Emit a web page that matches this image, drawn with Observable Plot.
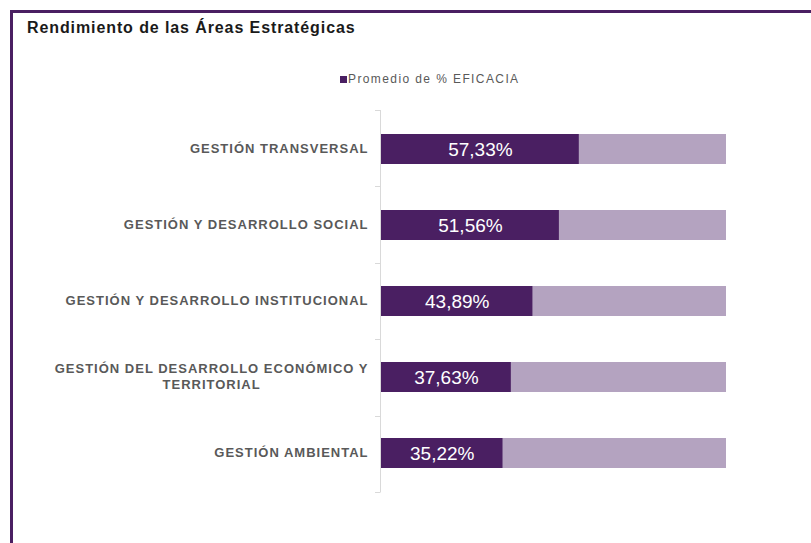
<!DOCTYPE html>
<html><head><meta charset="utf-8">
<script src="https://cdn.jsdelivr.net/npm/d3@7"></script>
<script src="https://cdn.jsdelivr.net/npm/@observablehq/plot@0.6"></script>
<style>
body{margin:0;background:#fff;font-family:"Liberation Sans",Arial,sans-serif;}
#frame{position:absolute;left:10px;top:10px;width:801px;height:533px;border-top:3px solid #4a1f62;border-left:3px solid #4a1f62;box-sizing:border-box;}
#title{position:absolute;left:27px;top:19px;font-size:16px;font-weight:bold;color:#1a1a1a;white-space:nowrap;letter-spacing:0.9px;}
#legend{position:absolute;left:340px;top:71px;font-size:12px;color:#595959;letter-spacing:1.4px;white-space:nowrap;line-height:16px;}
#legend .sw{display:inline-block;width:7px;height:7px;background:#4a1f62;margin-right:1px;vertical-align:0px;}
#chart{position:absolute;left:13px;top:95px;}
#chart g[aria-label="y-axis tick label"] text{letter-spacing:1px;}
</style></head><body>
<div id="frame"></div>
<div id="title">Rendimiento de las Áreas Estratégicas</div>
<div id="legend"><span class="sw"></span>Promedio de % EFICACIA</div>
<div id="chart"></div>
<script>
const categories = [
  "GESTIÓN TRANSVERSAL",
  "GESTIÓN Y DESARROLLO SOCIAL",
  "GESTIÓN Y DESARROLLO INSTITUCIONAL",
  "GESTIÓN DEL DESARROLLO ECONÓMICO Y TERRITORIAL",
  "GESTIÓN AMBIENTAL"
];
const tickLabels = [
  "GESTIÓN TRANSVERSAL",
  "GESTIÓN Y DESARROLLO SOCIAL",
  "GESTIÓN Y DESARROLLO INSTITUCIONAL",
  "GESTIÓN DEL DESARROLLO ECONÓMICO Y\nTERRITORIAL",
  "GESTIÓN AMBIENTAL"
];
const eficacia = [57.33, 51.56, 43.89, 37.63, 35.22];
const total = 100;

const dark = "#4a1f62";
const light = "#b4a3c0";

const data = categories.map((c, i) => ({cat: c, value: eficacia[i], total}));
const fmt = v => v.toFixed(2).replace(".", ",") + "%";

function axisFrame(index, scales, values, dims) {
  const {marginTop, marginBottom, height} = dims;
  const x0 = scales.x(0) - 1;
  const top = marginTop, bottom = height - marginBottom;
  const n = categories.length;
  const g = d3.create("svg:g").attr("stroke", "#d9d9d9").attr("stroke-width", 1);
  g.append("line").attr("x1", x0 + 0.5).attr("x2", x0 + 0.5).attr("y1", top).attr("y2", bottom);
  for (let k = 0; k <= n; k++) {
    const y = Math.round(top + k * (bottom - top) / n) + 0.5;
    g.append("line").attr("x1", x0 - 5).attr("x2", x0 + 0.5).attr("y1", y).attr("y2", y);
  }
  return g.node();
}

const chart = Plot.plot({
  width: 798,
  height: 448,
  marginTop: 15,
  marginBottom: 51,
  marginLeft: 368,
  marginRight: 85,
  style: {fontFamily: "'Liberation Sans', Arial, sans-serif", background: "transparent"},
  x: {domain: [0, total], axis: null},
  y: {domain: categories, paddingInner: 0.61, paddingOuter: 0.305, label: null},
  marks: [
    Plot.barX(data, {y: "cat", x1: 0, x2: "total", fill: light}),
    Plot.barX(data, {y: "cat", x1: 0, x2: "value", fill: dark}),
    Plot.text(data, {y: "cat", x: d => d.value / 2, text: d => fmt(d.value), fill: "white", fontSize: 19}),
    axisFrame,
    Plot.axisY({
      tickSize: 0,
      tickPadding: 13,
      dy: -1.5,
      tickFormat: d => tickLabels[categories.indexOf(d)],
      fill: "#595959",
      fontWeight: "bold",
      fontSize: 13,
      lineHeight: 1.23,
      lineWidth: 100,
      label: null
    })
  ]
});
document.getElementById("chart").appendChild(chart);

// centre continuation lines of wrapped labels under their first line
chart.querySelectorAll('g[aria-label="y-axis tick label"] text').forEach(t => {
  const spans = t.querySelectorAll("tspan");
  if (spans.length > 1) {
    const w = spans[0].getComputedTextLength();
    const x0 = +(spans[0].getAttribute("x") || 0);
    for (let i = 1; i < spans.length; i++) {
      spans[i].setAttribute("x", x0 - w / 2);
      spans[i].setAttribute("text-anchor", "middle");
    }
  }
});
</script>
</body></html>
